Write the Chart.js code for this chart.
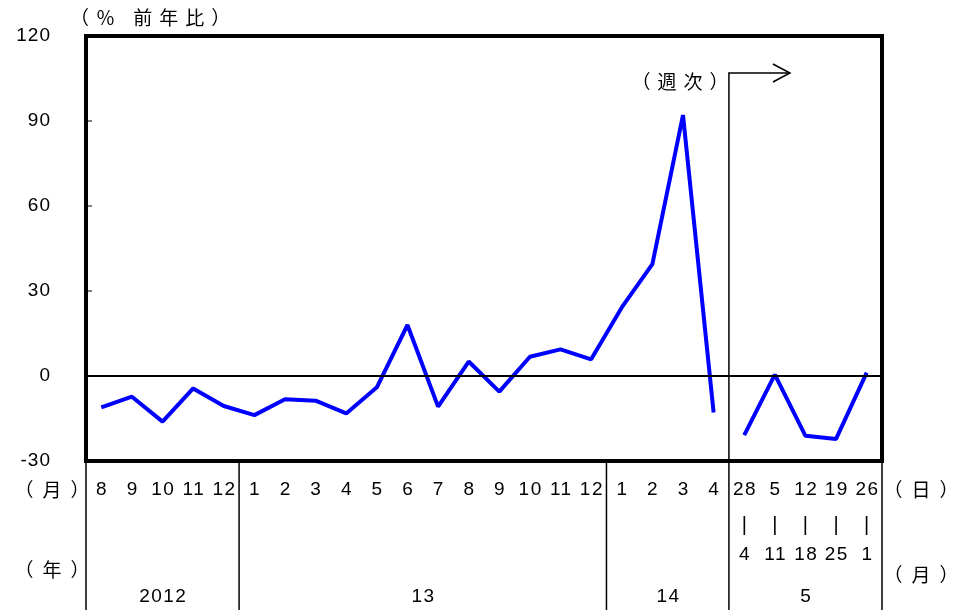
<!DOCTYPE html>
<html>
<head>
<meta charset="utf-8">
<script src="https://cdn.jsdelivr.net/npm/chart.js@4/dist/chart.umd.min.js"></script>
<style>
  html, body { margin: 0; padding: 0; background: #fff; }
  canvas { display: block; }
</style>
</head>
<body>
<canvas id="yoyChart" width="972" height="610"></canvas>
<script>
// === 前年比の推移（月次＋週次） ===
const monthLabels = ['8', '9', '10', '11', '12', '1', '2', '3', '4', '5', '6', '7', '8', '9', '10', '11', '12', '1', '2', '3', '4'];
const weekStart = ['28', '5', '12', '19', '26'];
const weekEnd = ['4', '11', '18', '25', '1'];
const yearLabels = ['2012', '13', '14', '5'];
const yearSpans = [5, 12, 4, 5];
const monthlyValues = [-11.1, -7.3, -16.1, -4.4, -10.6, -13.8, -8.2, -8.7, -13.2, -4.0, 18.0, -10.8, 5.1, -5.5, 6.8, 9.4, 5.9, 24.2, 39.5, 92.1, -12.9];
const weeklyValues = [-20.9, 0.5, -21.1, -22.2, 1.2];
const yTicks = [-30, 0, 30, 60, 90, 120];

const nMonth = monthLabels.length;
const categories = monthLabels.concat(weekStart.map((s, i) => s + '-' + weekEnd[i]));
const monthlySeries = monthlyValues.concat(weeklyValues.map(() => null));
const weeklySeries = monthlyValues.map(() => null).concat(weeklyValues);

const FONT = '"Liberation Sans", Arial, sans-serif';
const JFONT = '"Noto Sans CJK JP", sans-serif';

function label(ctx, text, px, py, font, spacing, align) {
  ctx.font = font;
  ctx.letterSpacing = spacing + 'px';
  ctx.textAlign = align || 'center';
  // compensate trailing spacing when centred
  const shift = (align || 'center') === 'center' ? spacing / 2 : 0;
  ctx.fillText(text, px + shift, py);
}

const tablePlugin = {
  id: 'tablePlugin',
  beforeDraw(chart) {
    chart.ctx.letterSpacing = '1px';
  },
  afterDraw(chart) {
    const { ctx, chartArea: a, scales } = chart;
    const x = scales.x, y = scales.y;
    const step = (a.right - a.left) / categories.length;
    const bound = i => a.left + i * step;
    ctx.save();

    // zero line
    ctx.strokeStyle = '#000';
    ctx.lineWidth = 2;
    ctx.beginPath();
    ctx.moveTo(a.left, y.getPixelForValue(0));
    ctx.lineTo(a.right, y.getPixelForValue(0));
    ctx.stroke();

    // inner tick marks
    ctx.lineWidth = 1;
    yTicks.forEach(v => {
      const py = y.getPixelForValue(v);
      ctx.beginPath();
      ctx.moveTo(a.left, py);
      ctx.lineTo(a.left + 6, py);
      ctx.stroke();
    });

    // plot border
    ctx.lineWidth = 4;
    ctx.strokeRect(a.left, a.top, a.right - a.left, a.bottom - a.top);

    // table vertical lines
    ctx.lineWidth = 1.5;
    let acc = 0;
    const cuts = [0];
    yearSpans.forEach(s => { acc += s; cuts.push(acc); });
    cuts.forEach(c => {
      ctx.beginPath();
      ctx.moveTo(bound(c), a.bottom);
      ctx.lineTo(bound(c), 610);
      ctx.stroke();
    });

    // weekly separator with arrow
    const wx = bound(nMonth);
    const ay = 73;
    ctx.beginPath();
    ctx.moveTo(wx, a.bottom);
    ctx.lineTo(wx, ay);
    ctx.lineTo(wx + 61, ay);
    ctx.stroke();
    ctx.beginPath();
    ctx.moveTo(wx + 44, ay - 9);
    ctx.lineTo(wx + 61, ay);
    ctx.lineTo(wx + 44, ay + 9);
    ctx.stroke();

    // labels
    ctx.fillStyle = '#000';
    ctx.textBaseline = 'middle';
    const num = '19px ' + FONT;
    monthLabels.forEach((m, i) => label(ctx, m, x.getPixelForValue(i), 490, num, 1.5));
    weekStart.forEach((s, i) => {
      const px = x.getPixelForValue(nMonth + i);
      label(ctx, s, px, 490, num, 1.5);
      label(ctx, '|', px, 525, '20px ' + FONT, 0);
      label(ctx, weekEnd[i], px, 555, num, 1.5);
    });

    acc = 0;
    yearLabels.forEach((lab, i) => {
      const mid = (bound(acc) + bound(acc + yearSpans[i])) / 2;
      label(ctx, lab, mid, 597, num, 1.5);
      acc += yearSpans[i];
    });

    const jp = '19px ' + JFONT;
    label(ctx, '（月）', 52, 490, jp, 9);
    label(ctx, '（年）', 52, 570, jp, 9);
    label(ctx, '（日）', 921, 490, jp, 9);
    label(ctx, '（月）', 921, 575, jp, 9);
    label(ctx, '（週次）', 680, 82, jp, 7);
    label(ctx, '（％ 前年比）', 70, 18, jp, 7, 'left');
    label(ctx, '）', 8, 545, jp, 0, 'right');
    label(ctx, '）', 8, 570, jp, 0, 'right');

    ctx.restore();
  }
};

const ctxYoy = document.getElementById('yoyChart').getContext('2d');
new Chart(ctxYoy, {
  type: 'line',
  data: {
    labels: categories,
    datasets: [{
      data: monthlySeries,
      borderColor: '#0000ff',
      borderWidth: 4,
      borderJoinStyle: 'bevel',
      pointRadius: 0,
      tension: 0,
      spanGaps: false
    }, {
      data: weeklySeries,
      borderColor: '#0000ff',
      borderWidth: 4,
      borderJoinStyle: 'bevel',
      pointRadius: 0,
      tension: 0,
      spanGaps: false
    }]
  },
  options: {
    responsive: false,
    animation: false,
    layout: { padding: { left: 0, top: 36, right: 90, bottom: 149 } },
    plugins: {
      legend: { display: false },
      tooltip: { enabled: false }
    },
    scales: {
      x: { type: 'category', offset: true, display: false },
      y: {
        min: -30,
        max: 120,
        afterFit(scale) {
          scale.width = 86;
          scale.paddingTop = 0;
          scale.paddingBottom = 0;
        },
        afterBuildTicks(scale) { scale.ticks = yTicks.map(v => ({ value: v })); },
        grid: { display: false, drawTicks: false },
        border: { display: false },
        ticks: {
          padding: 35,
          color: '#000',
          font: { family: '"Liberation Sans", Arial, sans-serif', size: 19 }
        }
      }
    }
  },
  plugins: [tablePlugin]
});
</script>
</body>
</html>
